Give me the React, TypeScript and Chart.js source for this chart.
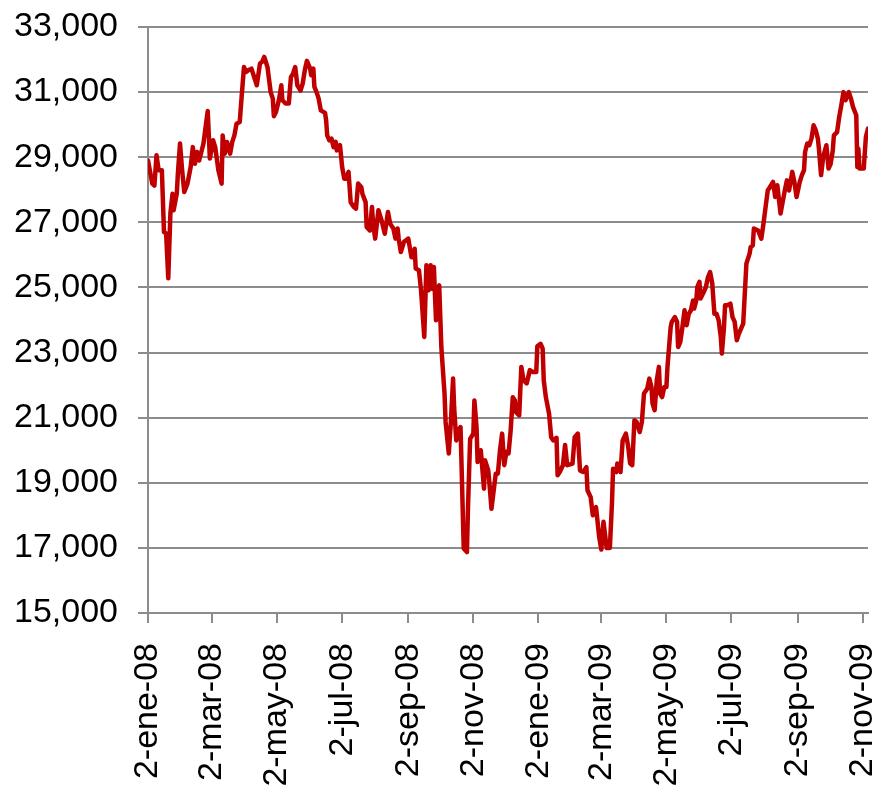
import React, { useEffect, useRef } from "react";
import { Chart, registerables } from "chart.js";

Chart.register(...registerables);

// Days since 2-ene-2008 and index level
const dayOffsets: number[] = [
  0, 4, 6, 8, 10, 13, 15, 17, 19, 21, 23, 24, 27, 28, 30, 32, 34, 37, 40, 42,
  44, 46, 48, 52, 54, 56, 58, 61, 63, 66, 69, 70, 72, 74, 77, 79, 81, 83, 86, 88,
  90, 92, 94, 97, 99, 102, 105, 107, 109, 112, 115, 117, 118, 120, 123, 125, 126, 129, 132, 134,
  136, 138, 140, 143, 145, 147, 149, 152, 153, 155, 156, 158, 160, 162, 166, 167, 168, 170, 172, 174,
  176, 177, 180, 182, 184, 186, 188, 190, 193, 195, 197, 200, 201, 204, 205, 208, 210, 211, 213, 216,
  219, 222, 225, 227, 230, 232, 234, 235, 237, 240, 242, 244, 247, 248, 250, 251, 254, 256, 259, 261,
  263, 265, 266, 268, 270, 272, 273, 275, 278, 279, 282, 284, 286, 287, 289, 291, 293, 294, 296, 299,
  300, 302, 305, 306, 308, 309, 312, 315, 316, 319, 320, 322, 326, 328, 330, 332, 334, 336, 338, 340,
  342, 344, 345, 348, 350, 352, 355, 358, 361, 364, 365, 368, 370, 371, 373, 376, 378, 380, 383, 384,
  386, 389, 391, 393, 395, 398, 400, 403, 405, 408, 411, 412, 415, 417, 420, 421, 423, 425, 427, 430,
  433, 435, 436, 439, 440, 443, 445, 448, 450, 452, 454, 456, 458, 461, 463, 465, 468, 470, 472, 473,
  475, 477, 479, 480, 482, 484, 486, 487, 490, 491, 494, 496, 497, 499, 501, 503, 505, 507, 509, 511,
  512, 514, 515, 517, 518, 521, 523, 525, 527, 529, 531, 533, 535, 537, 538, 540, 541, 543, 546, 548,
  550, 552, 554, 558, 561, 564, 565, 567, 568, 572, 575, 577, 579, 581, 583, 586, 588, 590, 593, 597,
  599, 601, 604, 606, 608, 611, 613, 615, 616, 618, 620, 622, 624, 626, 628, 629, 631, 633, 636, 638,
  640, 642, 643, 646, 648, 650, 652, 654, 657, 659, 661, 664, 665, 666, 667, 671, 673, 675,
];

const indexValues: number[] = [
  28900, 28190, 28130, 29060, 28600, 28600, 26700, 26660, 25280, 27280, 27880, 27370, 27880, 28500, 29420, 28600, 27930, 28190, 28700, 29310,
  28800, 29160, 28900, 29420, 29930, 30420, 28960, 29520, 29310, 28600, 28190, 29670, 29110, 29470, 29110, 29470, 29670, 30030, 30080, 30950,
  31770, 31620, 31670, 31720, 31520, 31210, 31880, 31930, 32080, 31770, 31000, 30800, 30260, 30390, 30800, 31210, 30750, 30650, 30650, 31460,
  31570, 31770, 31210, 31050, 31260, 31670, 31960, 31720, 31520, 31720, 31160, 31000, 30800, 30440, 30360, 30130, 29670, 29520, 29570, 29310,
  29470, 29210, 29370, 28700, 28340, 28340, 28550, 27620, 27470, 27420, 28190, 28080, 27880, 27620, 26860, 26750, 27470, 26960, 26500, 27370,
  27060, 26650, 27320, 26960, 26810, 26500, 26810, 26500, 26090, 26400, 26450, 26500, 25930, 25930, 26190, 25580, 25530, 24910, 23480, 25680,
  24910, 25680, 24960, 25630, 23990, 25010, 25060, 23170, 21740, 20870, 19900, 20900, 22200, 21320, 20300, 20610, 20710, 19480, 16980, 16870,
  18250, 20350, 20510, 21530, 20710, 19640, 20000, 18820, 19690, 19380, 19020, 18200, 19280, 19280, 20000, 20510, 19540, 19950, 19900, 20610,
  21630, 21530, 21170, 21070, 22560, 22150, 22050, 22460, 22400, 22400, 23190, 23270, 23120, 22150, 21630, 21120, 20400, 20300, 20380, 19230,
  19330, 19540, 20160, 19540, 19560, 19590, 20400, 20510, 19380, 19330, 19480, 18770, 18560, 18000, 18250, 17950, 17330, 16950, 17800, 17000,
  17000, 18400, 19430, 19330, 19590, 19330, 20300, 20510, 20150, 19590, 19540, 20920, 20870, 20560, 20870, 21740, 21890, 22200, 21940, 21430,
  21230, 22150, 22560, 21740, 21630, 21940, 21940, 22560, 23780, 23940, 24090, 23940, 23170, 23320, 23780, 24300, 23840, 24190, 24300, 24600,
  24350, 24600, 25010, 25170, 24660, 24860, 25010, 25320, 25470, 25120, 24190, 24190, 23990, 23480, 22970, 23780, 24450, 24450, 24500, 24090,
  23940, 23380, 23580, 23890, 25730, 26040, 26240, 26290, 26810, 26750, 26500, 26960, 27470, 27980, 28080, 28240, 27780, 28140, 27270, 27980,
  28290, 27980, 28550, 28240, 27780, 28240, 28450, 28600, 29160, 29420, 29370, 29570, 29980, 29830, 29570, 29260, 28450, 29010, 29370, 28650,
  28800, 29210, 29670, 29770, 30240, 30600, 31000, 30750, 31000, 30800, 30540, 30290, 28700, 29260, 28650, 28650, 29620, 29880,
];

const tickDays: number[] = [0, 60, 121, 182, 244, 305, 366, 425, 486, 547, 609, 670];
const tickLabels: string[] = [
  "2-ene-08", "2-mar-08", "2-may-08", "2-jul-08", "2-sep-08", "2-nov-08",
  "2-ene-09", "2-mar-09", "2-may-09", "2-jul-09", "2-sep-09", "2-nov-09",
];

const FONT = "'Liberation Sans', Arial, sans-serif";
const GRID = "#8c8c8c";

export default function App() {
  const ref = useRef<HTMLCanvasElement | null>(null);

  useEffect(() => {
    if (!ref.current) return;
    const points = dayOffsets.map((d, i) => ({ x: d, y: indexValues[i] }));
    const chart = new Chart(ref.current, {
      type: "line",
      data: {
        datasets: [
          {
            data: points,
            borderColor: "#C00000",
            borderWidth: 4.5,
            pointRadius: 0,
            tension: 0,
            fill: false,
            borderJoinStyle: "round",
            borderCapStyle: "round",
          },
        ],
      },
      options: {
        responsive: false,
        animation: false,
        layout: { padding: { top: 27, right: 13, left: 0, bottom: 0 } },
        plugins: { legend: { display: false }, tooltip: { enabled: false } },
        scales: {
          x: {
            type: "linear",
            min: 0,
            max: 675,
            afterBuildTicks: (s: any) => {
              s.ticks = tickDays.map((v) => ({ value: v }));
            },
            afterFit: (s: any) => {
              s.height = 176;
              s.paddingLeft = 0;
              s.paddingRight = 0;
            },
            ticks: {
              autoSkip: false,
              maxRotation: 90,
              minRotation: 90,
              padding: 20,
              color: "#000",
              font: { family: FONT, size: 34 },
              callback: (v: any) => {
                const i = tickDays.indexOf(Number(v));
                return i >= 0 ? tickLabels[i] : "";
              },
            },
            grid: {
              drawOnChartArea: false,
              drawTicks: true,
              tickLength: 10,
              color: GRID,
              lineWidth: 2,
            },
            border: { color: GRID, width: 2 },
          },
          y: {
            min: 15000,
            max: 33000,
            afterFit: (s: any) => {
              s.width = 148;
              s.paddingTop = 0;
              s.paddingBottom = 0;
            },
            ticks: {
              stepSize: 2000,
              padding: 20,
              color: "#000",
              font: { family: FONT, size: 34 },
              callback: (v: any) => Number(v).toLocaleString("en-US"),
            },
            grid: {
              drawTicks: true,
              tickLength: 10,
              color: GRID,
              lineWidth: 2,
            },
            border: { color: GRID, width: 2 },
          },
        },
      },
    });
    return () => chart.destroy();
  }, []);

  return (
    <div style={{ position: "fixed", left: 0, top: 0, width: 881, height: 789, background: "#fff" }}>
      <canvas ref={ref} width={881} height={789} style={{ width: 881, height: 789 }} />
    </div>
  );
}
